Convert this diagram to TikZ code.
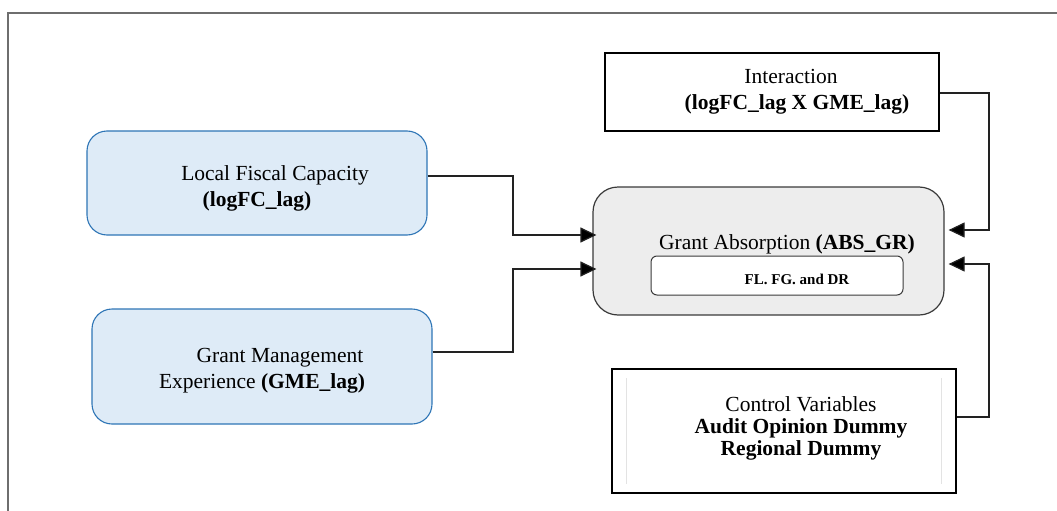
\documentclass[tikz,border=0pt]{standalone}
\usepackage{fontspec}
\setmainfont{Liberation Serif}
\usetikzlibrary{arrows.meta,shadows,calc}

\definecolor{capfill}{HTML}{DEEBF7}
\definecolor{capline}{HTML}{2E75B6}
\definecolor{gafill}{HTML}{EDEDED}
\definecolor{gaedge}{HTML}{3A3A3A}
\definecolor{wire}{HTML}{222222}
\definecolor{framegray}{HTML}{6E6E6E}

\begin{document}
\begin{tikzpicture}[x=1pt,y=-1pt,
  txt/.style={font=\fontsize{21.5}{26}\selectfont, align=center, inner sep=0pt},
  bluebox/.style={draw=capline, fill=capfill, line width=1.1pt,
    rounded corners=20pt, minimum width=340pt, inner sep=0pt},
  plainbox/.style={draw=black, fill=white, line width=1.2pt, inner sep=0pt,
    drop shadow={shadow xshift=1.3pt, shadow yshift=-1.3pt, opacity=0.45}},
  gabox/.style={draw=gaedge, fill=gafill, line width=1.2pt,
    rounded corners=25pt, inner sep=0pt},
  innerbox/.style={draw=gaedge, fill=white, line width=1pt,
    rounded corners=6pt, inner sep=0pt},
  conn/.style={draw=wire, line width=1.2pt,
    -{Triangle[length=16pt,width=15pt,fill=black]}},
  margin/.style={draw=gray!22, line width=0.8pt}
]
\useasboundingbox (0,0) rectangle (1057,511);

% page frame
\draw[framegray, line width=1.6pt] (8,511) -- (8,13) -- (1057,13);

% predictors
\node[bluebox, minimum height=104pt] (lfc) at (257,183) {};
\node[txt] (lfctxt) at (257,188)
  {\hspace*{36pt}Local Fiscal Capacity\\\textbf{(logFC\_lag)}};
\node[bluebox, minimum height=115pt] (gme) at (262,366.5) {};
\node[txt] (gmetxt) at (262,370.5)
  {\hspace*{36pt}Grant Management\\Experience \textbf{(GME\_lag)}};

% interaction term
\node[plainbox, minimum width=334pt, minimum height=78pt] (inter) at (772,92) {};
\node[txt] (intertxt) at (791,92)
  {Interaction\\\hspace*{12pt}\textbf{(logFC\_lag X GME\_lag)}};

% outcome
\node[gabox, minimum width=351pt, minimum height=128pt] (ga) at (768.5,251) {};
\node[txt] (gatitle) at (787,244) {Grant Absorption \textbf{(ABS\_GR)}};
\node[innerbox, minimum width=252pt, minimum height=39pt] (inner) at (777,275.5) {};
\node[font=\bfseries\fontsize{15}{18}\selectfont, inner sep=0pt] (innertxt)
  at (797,279) {FL. FG. and DR};

% controls
\node[plainbox, minimum width=344pt, minimum height=124pt] (ctrl) at (784,431) {};
\draw[margin] ([xshift=15pt,yshift=-10pt]ctrl.north west) -- ([xshift=15pt,yshift=10pt]ctrl.south west);
\draw[margin] ([xshift=-15pt,yshift=-10pt]ctrl.north east) -- ([xshift=-15pt,yshift=10pt]ctrl.south east);
\node[txt, font=\fontsize{21.5}{22}\selectfont] (ctrltxt) at (801,428)
  {Control Variables\\\textbf{Audit Opinion Dummy}\\\textbf{Regional Dummy}};

% connector anchor points
\coordinate (bendL) at (513,0);
\coordinate (bendR) at (989,0);
\coordinate (gaInA) at ([xshift=4pt,yshift=16pt]ga.west);
\coordinate (gaInB) at ([xshift=4pt,yshift=-18pt]ga.west);
\coordinate (gaInC) at ([xshift=4pt,yshift=21pt]ga.east);
\coordinate (gaInD) at ([xshift=4pt,yshift=-13pt]ga.east);
\coordinate (lfcOut) at ([yshift=7pt]lfc.east);
\coordinate (gmeOut) at ([yshift=14.5pt]gme.east);
\coordinate (interOut) at ([yshift=-1pt]inter.east);
\coordinate (ctrlOut) at ([yshift=14pt]ctrl.east);

% connectors
\draw[conn] (lfcOut) -- (lfcOut -| bendL) |- (gaInA);
\draw[conn] (gmeOut) -- (gmeOut -| bendL) |- (gaInB);
\draw[conn] (interOut) -- (interOut -| bendR) |- (gaInC);
\draw[conn] (ctrlOut) -- (ctrlOut -| bendR) |- (gaInD);
\end{tikzpicture}
\end{document}
